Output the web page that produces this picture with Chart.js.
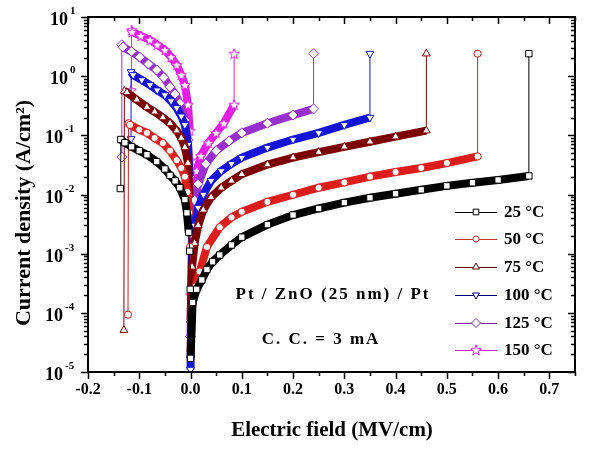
<!DOCTYPE html>
<html>
<head>
<meta charset="utf-8">
<script src="https://cdn.jsdelivr.net/npm/chart.js@4.4.0/dist/chart.umd.min.js"></script>
<style>
  html, body { margin: 0; padding: 0; background: #fff; }
</style>
</head>
<body>
<canvas id="jeChart" width="599" height="452"></canvas>
<script>
// temperatures (legend)
const temps = ['25', '50', '75', '100', '125', '150'];

// field (MV/cm) and |J| (A/cm^2), in sweep order: reset point, negative branch, zero, positive branch, compliance
const field25 = [-0.137, -0.136, -0.128, -0.115, -0.1, -0.085, -0.066, -0.05, -0.04, -0.03, -0.021, -0.011, -0.007, -0.0035, -0.0016, -0.0006, 0, 0.004, 0.012, 0.022, 0.032, 0.043, 0.057, 0.08, 0.1, 0.15, 0.2, 0.25, 0.3, 0.35, 0.4, 0.45, 0.5, 0.55, 0.6, 0.66, 0.66];
const current25 = [0.0126, 0.085, 0.075, 0.064, 0.055, 0.047, 0.036, 0.027, 0.021, 0.017, 0.013, 0.0082, 0.0049, 0.0023, 0.0011, 0.00025, 0.000017, 0.00015, 0.00025, 0.00036, 0.00054, 0.00073, 0.00095, 0.0014, 0.0019, 0.0031, 0.0045, 0.0058, 0.0073, 0.0088, 0.0103, 0.012, 0.014, 0.0158, 0.0176, 0.0206, 2.4];

const field50 = [-0.122, -0.121, -0.118, -0.1, -0.085, -0.07, -0.054, -0.04, -0.027, -0.018, -0.011, -0.006, -0.003, -0.001, 0, 0.003, 0.01, 0.018, 0.032, 0.057, 0.08, 0.1, 0.15, 0.2, 0.25, 0.3, 0.35, 0.4, 0.45, 0.5, 0.56, 0.56];
const current50 = [0.000093, 0.16, 0.15, 0.125, 0.11, 0.09, 0.074, 0.055, 0.038, 0.028, 0.02, 0.011, 0.005, 0.0013, 0.000023, 0.00013, 0.00028, 0.0005, 0.0013, 0.0028, 0.0041, 0.0051, 0.0075, 0.0099, 0.013, 0.016, 0.02, 0.024, 0.028, 0.034, 0.044, 2.4];

const field75 = [-0.130, -0.129, -0.124, -0.105, -0.085, -0.07, -0.054, -0.04, -0.027, -0.018, -0.011, -0.005, -0.002, -0.0005, 0, 0.003, 0.008, 0.015, 0.025, 0.04, 0.06, 0.08, 0.1, 0.15, 0.2, 0.25, 0.3, 0.35, 0.4, 0.46, 0.46];
const current75 = [0.000051, 0.56, 0.53, 0.4, 0.3, 0.25, 0.2, 0.16, 0.12, 0.09, 0.063, 0.034, 0.01, 0.0012, 0.000076, 0.0006, 0.0015, 0.003, 0.0055, 0.009, 0.013, 0.017, 0.022, 0.032, 0.042, 0.052, 0.064, 0.078, 0.095, 0.12, 2.4];

const field100 = [-0.116, -0.116, -0.112, -0.095, -0.079, -0.065, -0.05, -0.038, -0.027, -0.018, -0.011, -0.005, -0.002, -0.0005, 0, 0.003, 0.008, 0.015, 0.025, 0.04, 0.06, 0.08, 0.1, 0.15, 0.2, 0.25, 0.3, 0.35, 0.35];
const current100 = [0.087, 1.18, 1.05, 0.86, 0.71, 0.58, 0.48, 0.38, 0.29, 0.21, 0.15, 0.069, 0.02, 0.002, 0.000011, 0.0012, 0.003, 0.006, 0.01, 0.017, 0.025, 0.033, 0.042, 0.062, 0.085, 0.11, 0.15, 0.2, 2.4];

const field125 = [-0.134, -0.134, -0.132, -0.115, -0.099, -0.082, -0.066, -0.052, -0.04, -0.03, -0.021, -0.011, -0.005, -0.002, -0.0005, 0, 0.003, 0.008, 0.015, 0.03, 0.05, 0.075, 0.1, 0.15, 0.2, 0.24, 0.24];
const current125 = [0.043, 3.4, 3.1, 2.6, 2.1, 1.6, 1.27, 0.95, 0.66, 0.5, 0.35, 0.18, 0.083, 0.02, 0.003, 0.00004, 0.003, 0.008, 0.015, 0.033, 0.055, 0.08, 0.11, 0.16, 0.22, 0.28, 2.4];

const field150 = [-0.116, -0.115, -0.114, -0.097, -0.079, -0.065, -0.05, -0.038, -0.027, -0.018, -0.011, -0.005, -0.0016, -0.0006, 0, 0.002, 0.006, 0.012, 0.02, 0.035, 0.05, 0.065, 0.085, 0.085];
const current150 = [0.58, 6.0, 5.6, 4.8, 4.1, 3.4, 2.77, 2.1, 1.55, 1.05, 0.71, 0.33, 0.12, 0.038, 0.0002, 0.004, 0.012, 0.025, 0.045, 0.075, 0.11, 0.16, 0.33, 2.4];

const xTicks = [-0.2, -0.1, 0.0, 0.1, 0.2, 0.3, 0.4, 0.5, 0.6, 0.7];
const yExponents = [1, 0, -1, -2, -3, -4, -5];

const serif = "'Liberation Serif', 'Times New Roman', serif";

function starImage(color) {
    const c = document.createElement('canvas');
    c.width = 12; c.height = 12;
    const g = c.getContext('2d');
    g.beginPath();
    for (let i = 0; i < 10; i++) {
        const r = i % 2 === 0 ? 5.5 : 2.3;
        const a = -Math.PI / 2 + i * Math.PI / 5;
        g.lineTo(6 + r * Math.cos(a), 6.5 + r * Math.sin(a));
    }
    g.closePath();
    g.fillStyle = '#fff';
    g.fill();
    g.strokeStyle = color;
    g.lineWidth = 1;
    g.stroke();
    return c;
}

const series = [
    { xs: field25, ys: current25, color: '#000000', legendColor: '#000000', style: 'rect', radius: 4.5, rot: 0 },
    { xs: field50, ys: current50, color: '#dd1c1c', legendColor: '#c83232', style: 'circle', radius: 3.6, rot: 0 },
    { xs: field75, ys: current75, color: '#7d0000', legendColor: '#600000', style: 'triangle', radius: 4.5, rot: 0 },
    { xs: field100, ys: current100, color: '#1414d8', legendColor: '#000070', style: 'triangle', radius: 4.5, rot: 180 },
    { xs: field125, ys: current125, color: '#9a2fd0', legendColor: '#7a2aa0', style: 'rectRot', radius: 5, rot: 0 },
    { xs: field150, ys: current150, color: '#e41ee4', legendColor: '#d020d0', style: 'star', radius: 5, rot: 0 }
];
series.forEach(s => {
    if (s.style === 'star') s.style = starImage(s.color);
});

const datasets = series.map((s, i) => ({
    label: temps[i] + ' °C',
    data: s.xs.map((x, k) => ({ x: x, y: s.ys[k] })),
    showLine: true,
    borderColor: s.color,
    backgroundColor: '#ffffff',
    pointStyle: s.style,
    pointRadius: s.radius,
    pointRotation: s.rot,
    pointBorderWidth: 1,
    pointBackgroundColor: '#ffffff',
    borderWidth: 1,
    segment: {
        borderWidth: ctx => Math.abs(ctx.p1.x - ctx.p0.x) < 1.5 ? 1 : 8
    }
}));

// frame, ticks, labels, legend and notes
const decorations = {
    id: 'decorations',
    afterDatasetsDraw(chart) {
        const ctx = chart.ctx;
        const area = chart.chartArea;
        const xs = chart.scales.x;
        const ys = chart.scales.y;
        ctx.save();
        ctx.strokeStyle = '#000';
        ctx.fillStyle = '#000';

        // minor / major ticks
        ctx.lineWidth = 1.5;
        ctx.beginPath();
        for (let v = -0.2; v <= 0.751; v += 0.05) {
            const px = Math.round(xs.getPixelForValue(v)) + 0.5;
            const major = Math.abs(Math.round(v * 10) - v * 10) < 1e-6;
            const len = major ? 7 : 4;
            ctx.moveTo(px, area.bottom);
            ctx.lineTo(px, area.bottom + len);
            ctx.moveTo(px, area.top);
            ctx.lineTo(px, area.top + len);
        }
        for (let e = -5; e <= 1; e++) {
            for (let m = 1; m <= 9; m++) {
                const v = m * Math.pow(10, e);
                if (v > 10.0001) break;
                const py = Math.round(ys.getPixelForValue(v)) + 0.5;
                const len = m === 1 ? 7 : 4;
                ctx.moveTo(area.left, py);
                ctx.lineTo(area.left - len, py);
                ctx.moveTo(area.right, py);
                ctx.lineTo(area.right - len, py);
            }
        }
        ctx.stroke();

        // frame
        ctx.lineWidth = 2;
        ctx.strokeRect(area.left, area.top, area.right - area.left, area.bottom - area.top);

        // y tick labels 10^n
        yExponents.forEach(e => {
            const py = ys.getPixelForValue(Math.pow(10, e));
            const baseRight = e >= 0 ? 68 : 63;
            ctx.font = 'bold 18px ' + serif;
            ctx.textAlign = 'right';
            ctx.textBaseline = 'alphabetic';
            ctx.fillText('10', baseRight, py + 8);
            ctx.font = 'bold 11px ' + serif;
            ctx.textAlign = 'left';
            ctx.fillText(e < 0 ? '-' + (-e) : String(e), baseRight + 2, py - 3);
        });

        // axis titles
        ctx.font = 'bold 21px ' + serif;
        ctx.textAlign = 'center';
        ctx.textBaseline = 'middle';
        ctx.fillText('Electric field (MV/cm)', 332, 431);
        ctx.save();
        ctx.translate(24, 213);
        ctx.rotate(-Math.PI / 2);
        ctx.font = 'bold 22px ' + serif;
        ctx.fillText('Current density (A/cm²)', 0, 0);
        ctx.restore();

        // notes
        ctx.font = 'bold 17px ' + serif;
        ctx.letterSpacing = '2px';
        ctx.fillText('Pt / ZnO (25 nm) / Pt', 333, 295);
        ctx.fillText('C. C. = 3 mA', 321, 340);
        ctx.letterSpacing = '0px';

        // legend
        const rows = [212, 239, 267, 295, 323, 350];
        series.forEach((s, i) => {
            const y = rows[i];
            ctx.strokeStyle = s.legendColor;
            ctx.lineWidth = 1;
            ctx.beginPath();
            ctx.moveTo(455, y + 0.5);
            ctx.lineTo(497, y + 0.5);
            ctx.stroke();
            ctx.fillStyle = '#fff';
            Chart.helpers.drawPoint(ctx, {
                pointStyle: s.style, radius: s.radius - 0.5, rotation: s.rot, borderWidth: 1
            }, 476, y);
            ctx.fillStyle = '#000';
            ctx.font = 'bold 17px ' + serif;
            ctx.textAlign = 'left';
            ctx.fillText(temps[i] + ' °C', 504, y + 1);
        });
        ctx.restore();
    }
};

const ctxJE = document.getElementById('jeChart').getContext('2d');
const jeChart = new Chart(ctxJE, {
    type: 'scatter',
    data: { datasets: datasets },
    options: {
        responsive: false,
        animation: false,
        layout: { padding: { top: 17, right: 24, left: 0, bottom: 0 } },
        plugins: {
            legend: { display: false },
            tooltip: { enabled: false }
        },
        scales: {
            x: {
                type: 'linear',
                min: -0.2,
                max: 0.75,
                afterBuildTicks: scale => {
                    scale.ticks = xTicks.map(v => ({ value: v }));
                },
                ticks: {
                    callback: v => (Math.abs(v) < 1e-9 ? 0 : v).toFixed(1),
                    font: { family: serif, size: 16, weight: 'bold' },
                    color: '#000',
                    padding: 8,
                    maxRotation: 0,
                    autoSkip: false
                },
                grid: { display: false, drawTicks: false },
                border: { display: false },
                afterFit: scale => { scale.height = 80; }
            },
            y: {
                type: 'logarithmic',
                min: 1e-5,
                max: 10,
                ticks: { display: false },
                grid: { display: false, drawTicks: false },
                border: { display: false },
                afterFit: scale => { scale.width = 88; }
            }
        }
    },
    plugins: [decorations]
});
</script>
</body>
</html>
